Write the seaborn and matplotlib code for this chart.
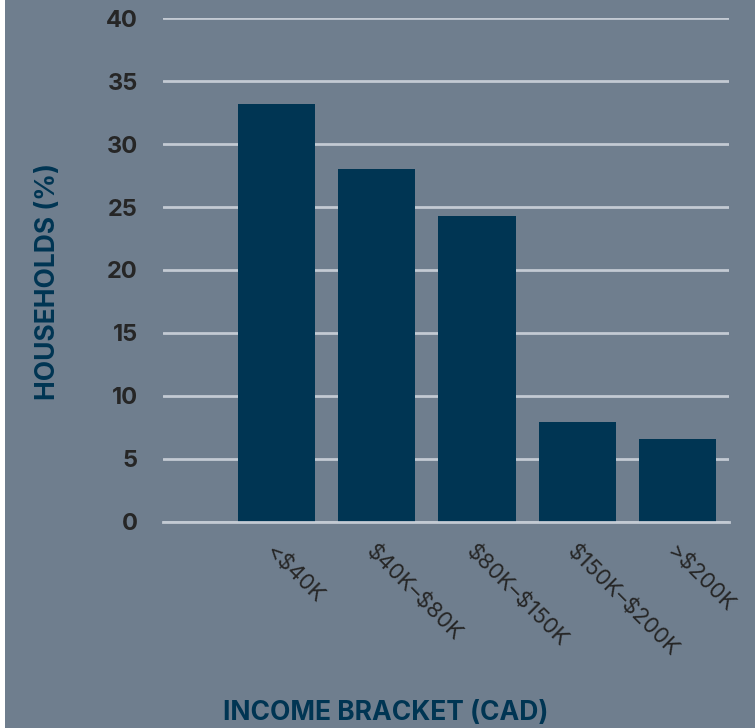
import numpy as np
import pandas as pd
import seaborn as sns
import matplotlib.pyplot as plt
from matplotlib.patches import Rectangle

brackets = ['<$40K', '$40K–$80K', '$80K–$150K', '$150K–$200K', '>$200K']
households = [33.2, 28.0, 24.3, 7.9, 6.6]
yticks = [0, 5, 10, 15, 20, 25, 30, 35, 40]

bg = '#6f7e8e'
navy = '#003553'
grid = '#c3cad3'

sns.set_theme(style='white')
plt.rcParams['font.family'] = ['Inter', 'DejaVu Sans']
plt.rcParams['text.parse_math'] = False

df = pd.DataFrame({'bracket': brackets, 'pct': households})

fig = plt.figure(figsize=(7.55, 7.28), dpi=100, facecolor=bg)
ax = fig.add_axes([163/755, 1 - 521.7/728, (729 - 163)/755, (521.7 - 18.3)/728])
ax.set_facecolor(bg)

sns.barplot(data=df, x='bracket', y='pct', color=navy, width=0.77,
            saturation=1, ax=ax, zorder=3, edgecolor='none', linewidth=0)

ax.set_xlim(-1.13, 4.51)
ax.set_ylim(0, 40)
ax.set_yticks(yticks)
ax.grid(axis='y', color=grid, linewidth=2, zorder=0)
ax.grid(axis='x', visible=False)
for s in ['top', 'right', 'left']:
    ax.spines[s].set_visible(False)
ax.spines['bottom'].set_color(grid)
ax.spines['bottom'].set_linewidth(2)
ax.spines['bottom'].set_zorder(4)
ax.tick_params(axis='both', length=0)
ax.tick_params(axis='y', pad=18)

for t in ax.get_yticklabels():
    t.set_fontsize(17)
    t.set_fontweight('bold')
    t.set_color('#262626')

ax.set_xticks(range(len(brackets)))
ax.set_xticklabels(brackets, rotation=-45, ha='left', va='top',
                   rotation_mode='anchor', fontsize=16, color='#262626',
                   parse_math=False)
ax.tick_params(axis='x', pad=14)

ax.set_xlabel('')
ax.set_ylabel('')
fig.text(48/755, 1 - 281/728, 'HOUSEHOLDS (%)', rotation=90, ha='center', va='center',
         fontsize=19, fontweight='bold', color=navy)
fig.text(386/755, 1 - 713/728, 'INCOME BRACKET (CAD)', ha='center', va='center',
         fontsize=19, fontweight='bold', color=navy)

fig.patches.append(Rectangle((0, 0), 5/755, 1, transform=fig.transFigure,
                             facecolor='white', edgecolor='none'))

fig.savefig('out.png', dpi=100, facecolor=bg)
